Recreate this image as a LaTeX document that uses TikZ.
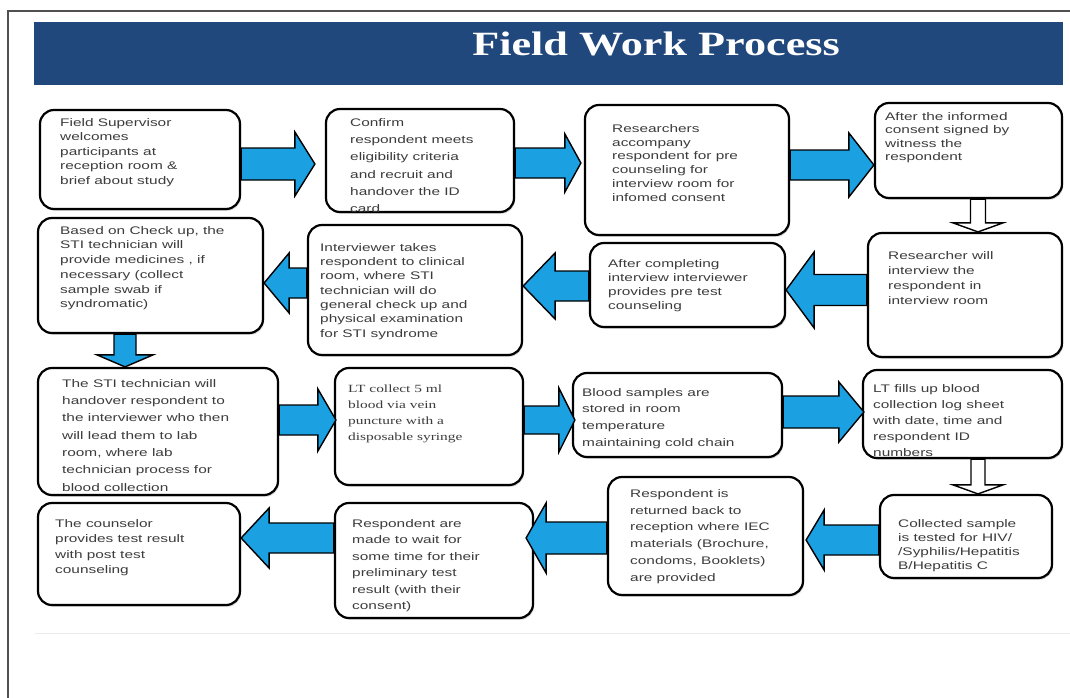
\documentclass[tikz,border=0pt]{standalone}
\usepackage{fontspec}
\newfontfamily\bodyfont{Liberation Sans}[FakeStretch=1.4]
\newfontfamily\serifbody{Liberation Serif}[FakeStretch=1.4]
\newfontfamily\titlefont{Liberation Serif}[FakeStretch=1.3]
\usetikzlibrary{calc,fit,shadows}
\definecolor{titleblue}{RGB}{33,72,124}
\definecolor{arrowblue}{RGB}{27,160,226}
\definecolor{txtgray}{RGB}{60,60,60}
\definecolor{framegray}{RGB}{80,80,80}
\tikzset{
  box/.style={draw=black, line width=2.2pt, rounded corners=14pt, fill=white, inner sep=0pt,
    drop shadow={shadow xshift=1.2pt, shadow yshift=-1.8pt, opacity=0.3}},
  bt/.style={anchor=north west, inner sep=0pt, align=left, text=txtgray},
  barr/.style={draw=black, line width=1.4pt, fill=arrowblue, line join=miter},
  warr/.style={draw=black, line width=1.4pt, fill=white, line join=miter},
}
\newcommand\bx[5]{\node[box, fit={(#2,-#3) (#4,-#5)}] (#1) {};}
\newcommand\tx[5]{\node[bt, font=\bodyfont\fontsize{11}{#4}\selectfont] (#1) at (#2,{-(#3-5)}) {\rule{0pt}{9pt}#5};}
% horizontal block arrow: from, to, y, shaft half, head half, signed head length, style
\newcommand\harr[7]{\path[#7] let \p1=(#1), \p2=(#2) in
  (\x1,{-#3pt+#4pt}) -- ({\x2-(#6pt)},{-#3pt+#4pt}) -- ({\x2-(#6pt)},{-#3pt+#5pt}) -- (\x2,-#3pt)
  -- ({\x2-(#6pt)},{-#3pt-#5pt}) -- ({\x2-(#6pt)},{-#3pt-#4pt}) -- (\x1,{-#3pt-#4pt}) -- cycle;}
% vertical (downward) block arrow: from, to, x, shaft half, head half, head length, style
\newcommand\varr[7]{\path[#7] let \p1=(#1), \p2=(#2) in
  ({#3pt-#4pt},\y1) -- ({#3pt-#4pt},{\y2+#6pt}) -- ({#3pt-#5pt},{\y2+#6pt}) -- (#3pt,\y2)
  -- ({#3pt+#5pt},{\y2+#6pt}) -- ({#3pt+#4pt},{\y2+#6pt}) -- ({#3pt+#4pt},\y1) -- cycle;}
\begin{document}
\begin{tikzpicture}[x=1pt,y=1pt]
\useasboundingbox (0,0) rectangle (1070,-698);
\fill[white] (0,0) rectangle (1070,-698);
% frame
\draw[framegray, line width=1.6pt] (8,-698) -- (8,-11) -- (1070,-11);
\draw[black!8, line width=0.8pt] (35,-633) -- (1070,-633);
% title bar
\node[fill=titleblue, inner sep=0pt, fit={(34,-22) (1063,-85)}] (bar) {};
\node[text=white, inner sep=0pt, font=\titlefont\bfseries\fontsize{34}{34}\selectfont] (title) at (656,-44) {Field Work Process};
% boxes
\bx{A}{40}{110}{240}{209}
\bx{B}{326}{109}{514}{212}
\bx{C}{585}{105}{789}{235}
\bx{D}{875}{103}{1062}{198}
\bx{E}{868}{233}{1062}{357}
\bx{F}{590}{243}{785}{327}
\bx{G}{308}{225}{522}{355}
\bx{H}{38}{218}{263}{333}
\bx{I}{38}{368}{278}{495}
\bx{J}{335}{368}{523}{485}
\bx{K}{573}{373}{782}{457}
\bx{L}{863}{370}{1062}{458}
\bx{M}{880}{495}{1052}{578}
\bx{N}{608}{477}{803}{595}
\bx{O}{335}{503}{533}{618}
\bx{P}{38}{503}{240}{605}
% texts
\tx{At}{60}{122}{14.5}{Field Supervisor\\welcomes\\participants  at\\reception  room  \&\\brief  about  study}
\tx{Bt}{350}{122}{17.3}{Confirm\\respondent   meets\\eligibility  criteria\\and  recruit  and\\handover  the  ID\\card}
\tx{Ct}{612}{128}{13.8}{Researchers\\accompany\\respondent  for pre\\counseling  for\\interview  room for\\infomed  consent}
\tx{Dt}{885}{116}{13.5}{After the  informed\\consent  signed by\\witness the\\respondent}
\tx{Et}{888}{255}{15}{Researcher   will\\interview  the\\respondent   in\\interview   room}
\tx{Ft}{608}{263}{14}{After  completing\\interview  interviewer\\provides  pre test\\counseling}
\tx{Gt}{320}{247}{14.3}{Interviewer  takes\\respondent  to clinical\\room,  where STI\\technician  will do\\general  check up and\\physical  examination\\for STI  syndrome}
\tx{Ht}{60}{230}{14.7}{Based  on Check  up, the\\STI technician  will\\provide  medicines  , if\\necessary  (collect\\sample  swab if\\syndromatic)}
\tx{It}{62}{383}{17.3}{The STI technician  will\\handover  respondent  to\\the interviewer  who then\\will lead them to lab\\room,  where lab\\technician  process  for\\blood  collection}
\node[bt, font=\serifbody\fontsize{11}{16}\selectfont] (Jt) at (348,-383) {\rule{0pt}{9pt}LT  collect 5 ml\\blood  via vein\\puncture  with a\\disposable syringe};
\tx{Kt}{582}{392}{16.7}{Blood  samples  are\\stored  in room\\temperature\\maintaining  cold chain}
\tx{Lt}{873}{388}{16}{LT fills up  blood\\collection  log sheet\\with  date,  time  and\\respondent   ID\\numbers}
\tx{Mt}{898}{523}{14}{Collected  sample\\is tested  for HIV/\\/Syphilis/Hepatitis\\B/Hepatitis  C}
\tx{Nt}{630}{493}{16.8}{Respondent   is\\returned   back to\\reception  where  IEC\\materials  (Brochure,\\condoms,  Booklets)\\are provided}
\tx{Ot}{352}{523}{16.5}{Respondent   are\\made  to wait  for\\some time  for their\\preliminary   test\\result (with  their\\consent)}
\tx{Pt}{55}{523}{15.5}{The  counselor\\provides  test result\\with  post  test\\counseling}
% arrows
\harr{A.east}{[xshift=-10pt]B.west}{164}{16}{32}{20}{barr}
\harr{B.east}{[xshift=-3pt]C.west}{163}{15}{29}{16}{barr}
\harr{C.east}{C.east -| D.west}{165}{15}{32}{25}{barr}
\varr{D.south}{E.north}{978}{7.5}{25}{9}{warr}
\harr{E.west}{F.east}{290}{15.5}{38}{-28}{barr}
\harr{F.west}{G.east}{286}{15}{33}{-32}{barr}
\harr{G.west}{H.east}{283}{15}{30}{-25}{barr}
\varr{H.south}{I.north}{125}{11}{28}{12}{barr}
\harr{I.east}{[xshift=2pt]J.west}{420}{15}{31}{18}{barr}
\harr{J.east}{[xshift=3pt]K.west}{420}{14}{32}{16}{barr}
\harr{K.east}{[xshift=2pt]L.west}{412}{16}{30}{25}{barr}
\varr{L.south}{M.north}{978}{7}{25}{9}{warr}
\harr{M.west}{[xshift=2pt]N.east}{540}{15}{30}{-18}{barr}
\harr{N.west}{[xshift=-8pt]O.east}{538}{16}{35}{-20}{barr}
\harr{O.west}{P.east}{538}{15}{30}{-28}{barr}
\end{tikzpicture}
\end{document}
